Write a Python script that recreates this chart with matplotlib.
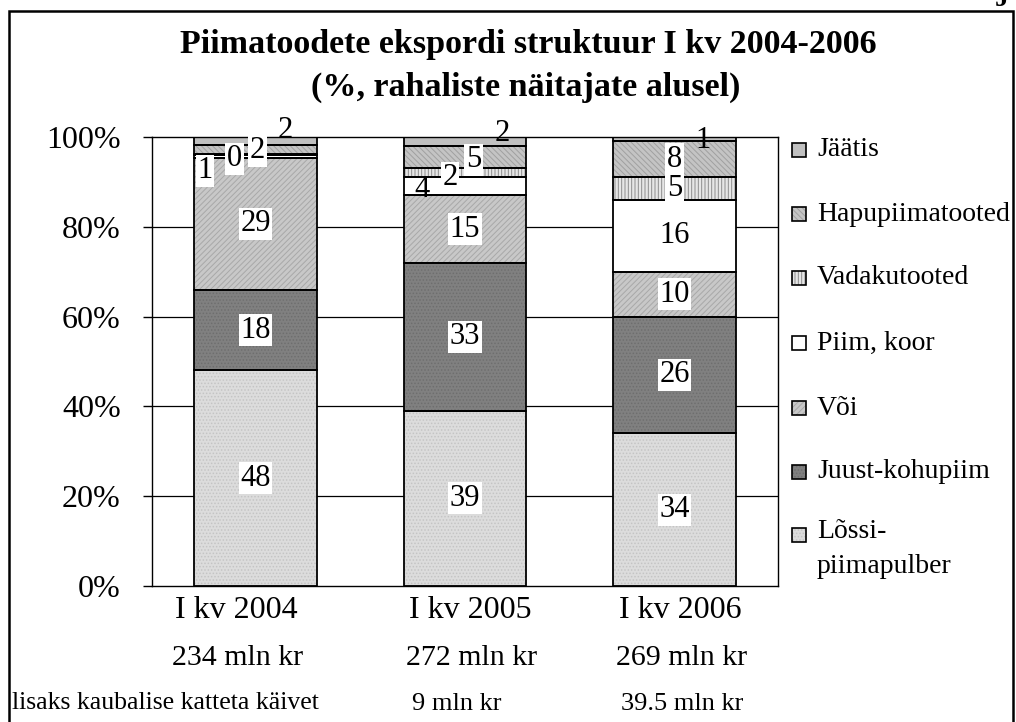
import numpy as np
import matplotlib.pyplot as plt
from matplotlib.patches import Rectangle

plt.rcParams['font.family'] = ['Liberation Serif', 'DejaVu Serif']
plt.rcParams['hatch.linewidth'] = 0.7

# data
periods = ['I kv 2004', 'I kv 2005', 'I kv 2006']
totals = ['234 mln kr', '272 mln kr', '269 mln kr']
extra_label = 'lisaks kaubalise katteta käivet'
extra = ['', '9 mln kr', '39.5 mln kr']
products = ['Lõssi-\npiimapulber', 'Juust-kohupiim', 'Või', 'Piim, koor',
            'Vadakutooted', 'Hapupiimatooted', 'Jäätis']  # bottom -> top
share_2004 = [48, 18, 29.3, 0.6, 0.4, 1.9, 1.8]
share_2005 = [39, 33, 15, 4, 2, 5, 2]
share_2006 = [34, 26, 10, 16, 5, 8, 1]
shares = np.array([share_2004, share_2005, share_2006])

# styles per product (face, hatch colour, hatch)
faces = ['#dcdcdc', '#808080', '#c8c8c8', '#ffffff', '#e6e6e6', '#c4c4c4', '#c0c0c0']
hatch_cols = ['#c4c4c4', '#6e6e6e', '#a8a8a8', '#ffffff', '#8c8c8c', '#a0a0a0', '#c0c0c0']
hatches = ['.....', '.....', '//////', None, '|||||', '\\\\\\\\\\\\', None]

# label tweaks for the thin segments: (period, product) -> (dx, dy, white box)
tweaks = {(0, 3): (-0.24, -3.1, True), (0, 4): (-0.1, -0.9, True),
          (0, 5): (0.01, -0.3, True), (0, 6): (0.14, 2.3, False),
          (1, 3): (-0.205, -0.8, False), (1, 4): (-0.07, -1.1, True),
          (1, 5): (0.04, -0.6, True), (1, 6): (0.18, 1.7, False),
          (2, 6): (0.135, -0.2, False)}

# x centres (pixels) of the text rows under the bars
period_px = [236, 470, 680]
total_px = [238, 472, 682]
extra_px = [0, 457, 682]

W, H = 1016, 722
fig = plt.figure(figsize=(W / 100, H / 100), dpi=100)
ax = fig.add_axes([152/W, 136/H, 626/W, 449/H])

x = np.arange(len(periods))
width = 0.587
bottom = np.zeros(len(periods))
for j in range(len(products)):
    vals = shares[:, j]
    ax.bar(x, vals, width, bottom=bottom, color=faces[j], edgecolor=hatch_cols[j],
           hatch=hatches[j], linewidth=0, zorder=2)
    ax.bar(x, vals, width, bottom=bottom, fill=False, edgecolor='black',
           linewidth=1.3, zorder=3)
    for i in range(len(periods)):
        dx, dy, box = tweaks.get((i, j), (0, 0, True))
        bb = dict(boxstyle='square,pad=0.05', fc='white', ec='none') if box else None
        ax.text(x[i] + dx, bottom[i] + vals[i] / 2 + dy, f'{vals[i]:.0f}',
                ha='center', va='center', fontsize=22, bbox=bb, zorder=5)
    bottom += vals

ax.set_xlim(-0.494, 2.494)
ax.set_ylim(0, 100)
ax.set_yticks([0, 20, 40, 60, 80, 100])
ax.set_yticklabels([f'{v}%' for v in range(0, 101, 20)])
ax.tick_params(axis='y', direction='out', length=6.5, width=1, pad=16, labelsize=23)
ax.set_xticks([])
for y in [20, 40, 60, 80]:
    ax.axhline(y, color='black', linewidth=0.9, zorder=1)
for s in ax.spines.values():
    s.set_linewidth(1)
    s.set_color('black')

for i in range(len(periods)):
    fig.text(period_px[i] / W, 1 - 611/H, periods[i], ha='center', va='center', fontsize=23)
    fig.text(total_px[i] / W, 1 - 658/H, totals[i], ha='center', va='center', fontsize=21.5)
    if extra[i]:
        fig.text(extra_px[i] / W, 1 - 704/H, extra[i], ha='center', va='center', fontsize=19)
fig.text(12/W, 1 - 703/H, extra_label, ha='left', va='center', fontsize=18.5)

# title
fig.text(528/W, 1 - 45/H, 'Piimatoodete ekspordi struktuur I kv 2004-2006',
         ha='center', va='center', fontsize=24.5, fontweight='bold')
fig.text(526/W, 1 - 87/H, '(%, rahaliste näitajate alusel)',
         ha='center', va='center', fontsize=24.5, fontweight='bold')
fig.text(1002/W, 1.0, 'J', ha='center', va='center', fontsize=20, fontweight='bold')

# legend (top -> bottom)
leg_y = [150, 214, 278, 343, 408, 472, 535]
for k, j in enumerate(range(len(products) - 1, -1, -1)):
    yc = 1 - leg_y[k] / H
    for fill_kw in (dict(facecolor=faces[j], edgecolor=hatch_cols[j], hatch=hatches[j], lw=0),
                    dict(fill=False, edgecolor='black', lw=1.2)):
        fig.add_artist(Rectangle((792/W, yc - 7/H), 14/W, 14/H,
                                 transform=fig.transFigure, **fill_kw))
    if '\n' in products[j]:
        fig.text(817/W, yc + 16/H, products[j], ha='left', va='top', fontsize=20,
                 linespacing=1.55)
    else:
        fig.text(817/W, yc, products[j], ha='left', va='center', fontsize=20)

# outer frame
fig.add_artist(Rectangle((9/W, -0.05), 1004/W, 1.05 - 11/H, transform=fig.transFigure,
                         fill=False, edgecolor='black', lw=1.8))

fig.savefig('out.png', dpi=100)
